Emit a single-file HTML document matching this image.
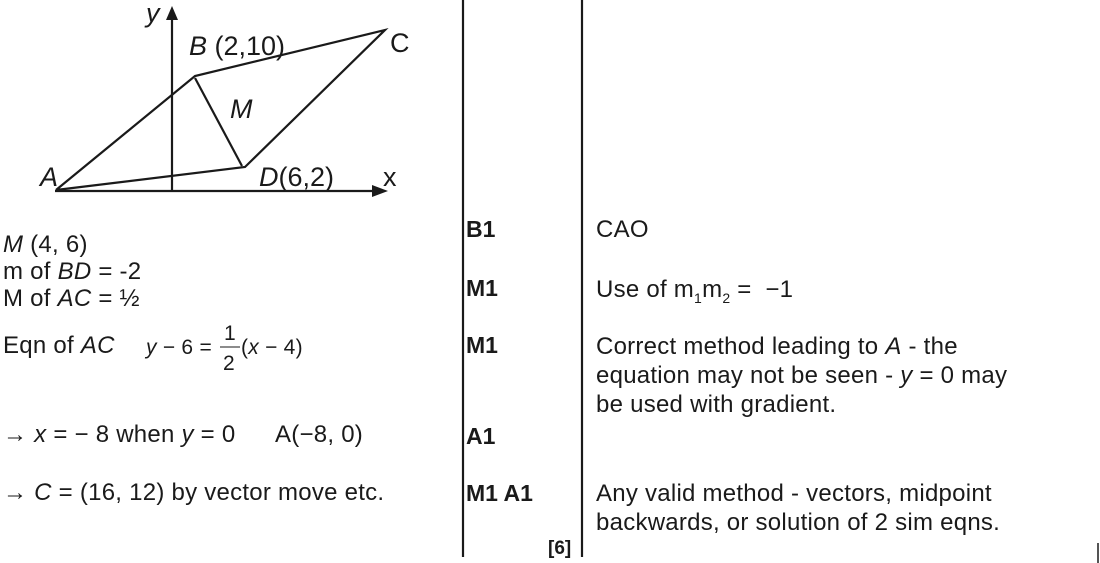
<!DOCTYPE html>
<html><head><style>
body{margin:0;width:1100px;height:563px;background:#fff;position:relative;overflow:hidden;font-family:"Liberation Sans",Arial,sans-serif;color:#1a1a1a}
.t{position:absolute;font-size:24px;white-space:nowrap;line-height:28px;letter-spacing:0.25px}
.b{font-weight:bold;font-size:23px;letter-spacing:0}
i{font-style:italic}
</style></head><body>
<svg width="1100" height="563" style="position:absolute;left:0;top:0">
<g stroke="#1a1a1a" stroke-width="2.2" fill="none">
<line x1="172" y1="192" x2="172" y2="14"/>
<line x1="55" y1="191" x2="376" y2="191"/>
<polyline points="56,190 195,76 385,30 245,167 56,190"/>
<line x1="195" y1="78" x2="242" y2="166"/>
<line x1="463" y1="0" x2="463" y2="557"/>
<line x1="582" y1="0" x2="582" y2="557"/>
<line x1="1098" y1="543" x2="1098" y2="563" stroke-width="1.5"/>
<line x1="220" y1="347" x2="240" y2="347" stroke-width="1"/>
</g>
<polygon points="172,6 166,20 178,20" fill="#1a1a1a"/>
<polygon points="388,191 372,185 372,197" fill="#1a1a1a"/>
<g font-family="Liberation Sans,Arial,sans-serif" font-size="27" fill="#1a1a1a">
<text x="146" y="22" font-style="italic">y</text>
<text x="189" y="55"><tspan font-style="italic">B</tspan> (2,10)</text>
<text x="390" y="52">C</text>
<text x="230" y="118" font-style="italic">M</text>
<text x="40" y="186" font-style="italic">A</text>
<text x="259" y="186"><tspan font-style="italic">D</tspan>(6,2)</text>
<text x="383" y="186">x</text>
</g>
<g font-family="Liberation Sans,Arial,sans-serif" fill="#1a1a1a" font-size="21">
<text x="224" y="340">1</text>
<text x="223" y="370">2</text>
</g>
</svg>
<div class="t" style="left:3px;top:231px"><i>M</i> (4, 6)</div>
<div class="t" style="left:3px;top:258px">m of <i>BD</i> = -2</div>
<div class="t" style="left:3px;top:285px">M of <i>AC</i> = ½</div>
<div class="t" style="left:3px;top:332px">Eqn of <i>AC</i></div>
<div class="t" style="left:146px;top:334px;font-size:21px"><i>y</i> − 6 =</div>
<div class="t" style="left:241px;top:334px;font-size:21px">(<i>x</i> − 4)</div>
<div class="t" style="left:3px;top:421px">→ <i>x</i> = − 8 when <i>y</i> = 0</div>
<div class="t" style="left:275px;top:421px">A(−8, 0)</div>
<div class="t" style="left:3px;top:479px">→ <i>C</i> = (16, 12) by vector move etc.</div>
<div class="t b" style="left:466px;top:215px">B1</div>
<div class="t b" style="left:466px;top:274px">M1</div>
<div class="t b" style="left:466px;top:331px">M1</div>
<div class="t b" style="left:466px;top:422px">A1</div>
<div class="t b" style="left:466px;top:479px">M1 A1</div>
<div class="t b" style="left:548px;top:535px;font-size:19px">[6]</div>
<div class="t" style="left:596px;top:216px">CAO</div>
<div class="t" style="left:596px;top:276px">Use of m<sub style="font-size:14px">1</sub>m<sub style="font-size:14px">2</sub> = &nbsp;−1</div>
<div class="t" style="left:596px;top:332px;line-height:29px">Correct method leading to <i>A</i> - the<br>equation may not be seen - <i>y</i> = 0 may<br>be used with gradient.</div>
<div class="t" style="left:596px;top:479px;line-height:29px">Any valid method - vectors, midpoint<br>backwards, or solution of 2 sim eqns.</div>
</body></html>
